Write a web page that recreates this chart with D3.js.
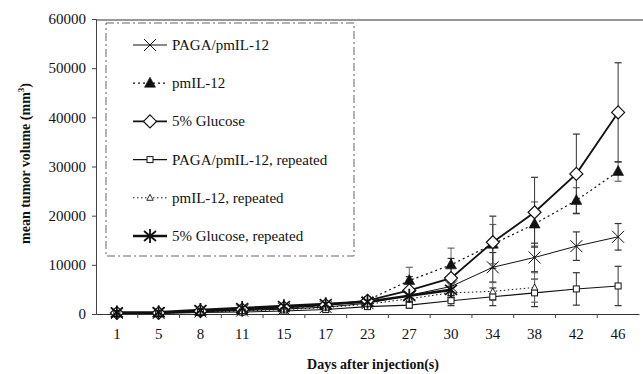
<!DOCTYPE html>
<html>
<head>
<meta charset="utf-8">
<script src="https://cdn.jsdelivr.net/npm/d3@7"></script>
<style>
  body { margin: 0; background: #fff; }
  text { font-family: "Liberation Serif", "Times New Roman", serif; fill: #111; }
</style>
</head>
<body>
<div class="chart-container"></div>
<script>
// days after injection (categories on the x axis)
var days = ['1', '5', '8', '11', '15', '17', '23', '27', '30', '34', '38', '42', '46'];
var yTicks = [0, 10000, 20000, 30000, 40000, 50000, 60000];

// mean tumour volume per group (null = no data)
var pagaPm     = [200, 200, 500, 700, 1000, 1400, 2200, 3800, 5600, 9500, 11500, 13800, 15700];
var pagaPmErr  = [100, 100, 200, 300, 400, 500, 600, 1200, 1800, 3000, 2900, 2900, 2700];
var pmil       = [200, 200, 500, 800, 1200, 1700, 2800, 6800, 10000, 14200, 18300, 23100, 29000];
var pmilErr    = [100, 100, 200, 300, 400, 500, 700, 2700, 3400, 4000, 4500, 2600, 2000];
var glucose    = [200, 200, 600, 900, 1300, 1800, 2700, 4800, 7300, 14600, 20700, 28500, 41000];
var glucoseErr = [100, 100, 200, 300, 400, 500, 700, 2800, 4000, 5300, 7100, 8100, 10100];
var pagaRep    = [100, 100, 300, 400, 600, 900, 1500, 1800, 2700, 3500, 4300, 5100, 5700];
var pagaRepErr = [50, 50, 150, 200, 300, 400, 500, 600, 1000, 1800, 2800, 3300, 4000];
var pmilRep    = [150, 150, 400, 600, 900, 1300, 2000, 3100, 4300, 4600, 5400, null, null];
var pmilRepErr = [80, 80, 150, 250, 350, 450, 600, 1000, 1400, 1800, 3000, null, null];
var glucRep    = [300, 350, 800, 1200, 1600, 2000, 2500, 3700, 4900, null, null, null, null];
var glucRepErr = [100, 100, 250, 350, 450, 550, 700, 1200, 1500, null, null, null, null];

var series = [
  { name: 'PAGA/pmIL-12', values: pagaPm, err: pagaPmErr, marker: 'x', width: 1, dash: null },
  { name: 'pmIL-12', values: pmil, err: pmilErr, marker: 'tri', width: 1.2, dash: '2,3' },
  { name: '5% Glucose', values: glucose, err: glucoseErr, marker: 'diamond', width: 1.8, dash: null },
  { name: 'PAGA/pmIL-12, repeated', values: pagaRep, err: pagaRepErr, marker: 'square', width: 1.1, dash: null },
  { name: 'pmIL-12, repeated', values: pmilRep, err: pmilRepErr, marker: 'smalltri', width: 1, dash: '1.5,2.5' },
  { name: '5% Glucose, repeated', values: glucRep, err: glucRepErr, marker: 'star', width: 2.6, dash: null }
];

var margin = {top: 19, right: 3, bottom: 60, left: 96},
  width = 643 - margin.left - margin.right,
  height = 374 - margin.top - margin.bottom;

var svg = d3.select('.chart-container').append('svg')
    .attr('width', 643)
    .attr('height', 374)
  .append('g')
    .attr('transform', 'translate(' + margin.left + ',' + margin.top + ')');

var x = d3.scaleBand().domain(days).range([0, width - 1]).paddingInner(0);
var y = d3.scaleLinear().domain([0, 60000]).range([height, 0]);
var cx = function (i) { return x(days[i]) + x.bandwidth() / 2; };

// frame: top line
svg.append('line')
    .attr('x1', 0).attr('x2', width + 3)
    .attr('y1', 1).attr('y2', 1)
    .attr('stroke', '#333').attr('stroke-width', 1.2);

// y axis
var yAxis = d3.axisLeft(y).tickValues(yTicks).tickSize(4).tickPadding(6).tickFormat(d3.format('d'));
var gy = svg.append('g').call(yAxis);
gy.select('.domain').attr('stroke', '#444').attr('stroke-width', 1);
gy.selectAll('.tick line').attr('stroke', '#444');
gy.selectAll('.tick text').style('font-size', '15px').attr('fill', '#111');

// x axis: labels centred in bands, ticks at band borders
var xAxis = d3.axisBottom(x).tickSize(0).tickPadding(14);
var gx = svg.append('g').attr('transform', 'translate(0,' + height + ')').call(xAxis);
gx.select('.domain').attr('stroke', '#333').attr('stroke-width', 1.2);
gx.selectAll('.tick text').style('font-size', '15px').attr('fill', '#111');
gx.selectAll('.border').data(days.slice(1)).enter().append('line')
    .attr('x1', function (d) { return x(d); }).attr('x2', function (d) { return x(d); })
    .attr('y1', 0).attr('y2', 4)
    .attr('stroke', '#444');

// axis titles
svg.append('text')
    .attr('transform', 'translate(-66,' + (height / 2 - 3) + ') rotate(-90)')
    .attr('text-anchor', 'middle')
    .style('font-size', '14px').style('font-weight', 'bold')
    .text('mean tumor volume (mm')
  .append('tspan').attr('dy', -6).style('font-size', '9px').text('3')
  .select(function () { return this.parentNode; })
  .append('tspan').attr('dy', 6).text(')');

svg.append('text')
    .attr('x', width / 2 + 5).attr('y', height + 55)
    .attr('text-anchor', 'middle')
    .style('font-size', '14px').style('font-weight', 'bold')
    .text('Days after injection(s)');

// legend box
var legend = svg.append('g').attr('transform', 'translate(10,4)');
legend.append('rect')
    .attr('width', 248).attr('height', 233)
    .attr('fill', 'none').attr('stroke', '#666').attr('stroke-width', 1)
    .attr('stroke-dasharray', '8,3,2,3');

function drawMarker(g, type, px, py) {
  var c = '#111';
  if (type === 'x') {
    g.append('path').attr('d', 'M' + (px - 6) + ',' + (py - 6) + 'L' + (px + 6) + ',' + (py + 6) +
      'M' + (px - 6) + ',' + (py + 6) + 'L' + (px + 6) + ',' + (py - 6))
      .attr('stroke', c).attr('stroke-width', 1).attr('fill', 'none');
  } else if (type === 'tri') {
    g.append('path').attr('d', 'M' + px + ',' + (py - 6) + 'L' + (px + 5.5) + ',' + (py + 4) + 'L' + (px - 5.5) + ',' + (py + 4) + 'Z')
      .attr('fill', c).attr('stroke', c).attr('stroke-width', 0.6);
  } else if (type === 'diamond') {
    g.append('path').attr('d', 'M' + px + ',' + (py - 6.5) + 'L' + (px + 6.5) + ',' + py + 'L' + px + ',' + (py + 6.5) + 'L' + (px - 6.5) + ',' + py + 'Z')
      .attr('fill', '#fff').attr('stroke', c).attr('stroke-width', 1.2);
  } else if (type === 'square') {
    g.append('rect').attr('x', px - 3).attr('y', py - 3).attr('width', 6).attr('height', 6)
      .attr('fill', '#fff').attr('stroke', c).attr('stroke-width', 1);
  } else if (type === 'smalltri') {
    g.append('path').attr('d', 'M' + px + ',' + (py - 3.5) + 'L' + (px + 3.2) + ',' + (py + 2.5) + 'L' + (px - 3.2) + ',' + (py + 2.5) + 'Z')
      .attr('fill', '#fff').attr('stroke', c).attr('stroke-width', 0.9);
  } else if (type === 'star') {
    g.append('path').attr('d', 'M' + (px - 6) + ',' + (py - 5) + 'L' + (px + 6) + ',' + (py + 5) +
      'M' + (px - 6) + ',' + (py + 5) + 'L' + (px + 6) + ',' + (py - 5) +
      'M' + px + ',' + (py - 7) + 'L' + px + ',' + (py + 7))
      .attr('stroke', c).attr('stroke-width', 1.8).attr('fill', 'none');
  }
}

series.forEach(function (s, k) {
  var ly = 22 + k * 38.2;
  var row = legend.append('g');
  row.append('line')
      .attr('x1', 27).attr('x2', 61).attr('y1', ly).attr('y2', ly)
      .attr('stroke', '#111').attr('stroke-width', s.width)
      .attr('stroke-dasharray', s.dash);
  drawMarker(row, s.marker, 44, ly);
  row.append('text')
      .attr('x', 66).attr('y', ly + 5)
      .style('font-size', '15px')
      .text(s.name);
});

// error bars
var errG = svg.append('g');
series.forEach(function (s) {
  s.values.forEach(function (v, i) {
    if (v === null) return;
    var px = cx(i), top = y(v + s.err[i]), bot = y(Math.max(0, v - s.err[i]));
    var col = s.dash ? '#666' : '#333';
    errG.append('line').attr('x1', px).attr('x2', px).attr('y1', top).attr('y2', bot)
        .attr('stroke', col).attr('stroke-width', 1);
    [top, bot].forEach(function (yy) {
      errG.append('line').attr('x1', px - 3.5).attr('x2', px + 3.5).attr('y1', yy).attr('y2', yy)
          .attr('stroke', col).attr('stroke-width', 1.2);
    });
  });
});

// lines
var line = d3.line()
    .defined(function (d) { return d !== null; })
    .x(function (d, i) { return cx(i); })
    .y(function (d) { return y(d); });

series.forEach(function (s) {
  svg.append('path')
      .datum(s.values)
      .attr('d', line)
      .attr('fill', 'none')
      .attr('stroke', '#111')
      .attr('stroke-width', s.width)
      .attr('stroke-dasharray', s.dash);
});

// markers
var markG = svg.append('g');
series.forEach(function (s) {
  s.values.forEach(function (v, i) {
    if (v === null) return;
    drawMarker(markG, s.marker, cx(i), y(v));
  });
});
</script>
</body>
</html>
